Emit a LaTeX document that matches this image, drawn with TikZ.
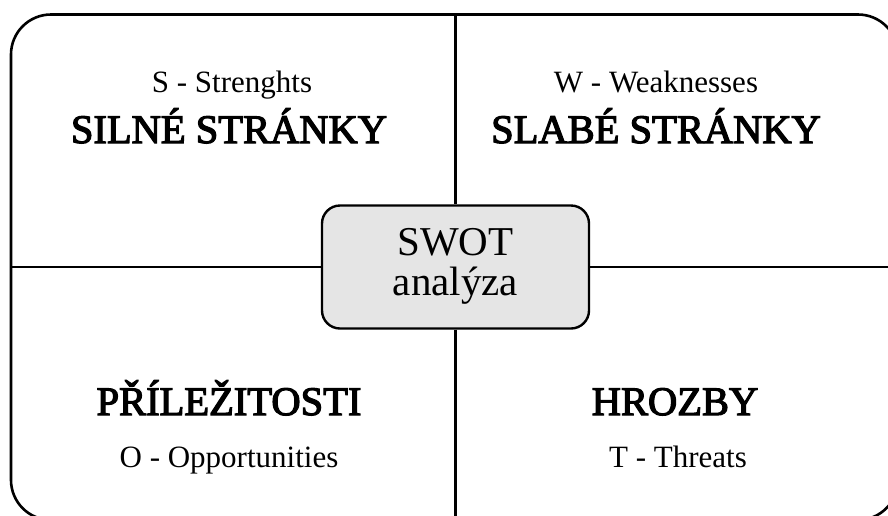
\documentclass[tikz,border=0pt]{standalone}
\usepackage{fontspec}
\setmainfont{Liberation Serif}
\newfontfamily\heavyserif{Liberation Serif}[FakeBold=3]
\begin{document}
\begin{tikzpicture}[x=1pt,y=-1pt,
  frame/.style={line width=2.6pt,rounded corners=40pt},
  divider/.style={line width=2.4pt},
  small/.style={font=\fontsize{31}{34}\selectfont,anchor=base,inner sep=0pt},
  big/.style={font=\heavyserif\fontsize{40.5}{44}\selectfont,anchor=base,inner sep=0pt},
  centerbox/.style={draw,line width=2.4pt,fill=black!10,rounded corners=18pt,
    minimum width=267pt,minimum height=123pt,align=center,
    font=\fontsize{41}{43}\selectfont,inner sep=0pt}]
\useasboundingbox (0,0) rectangle (888,515);
\begin{scope}
\clip (0,0) rectangle (888,515);
\draw[frame] (11,14.5) rectangle (898,520);
\coordinate (top) at (455.5,14.5);
\coordinate (bot) at (455.5,520);
\coordinate (lft) at (11,267);
\coordinate (rgt) at (898,267);
\node[centerbox] (c) at (455.5,267) {\raisebox{-5pt}{\begin{tabular}{@{}c@{}}SWOT\\[-3pt]analýza\end{tabular}}};
\draw[divider] (top) -- (c.north);
\draw[divider] (c.south) -- (bot);
\draw[divider] (lft) -- (c.west);
\draw[divider] (c.east) -- (rgt);
\end{scope}
\node[small] (s1) at (232,92) {S - Strenghts};
\node[big] (s2) at (229,143) {SILNÉ STRÁNKY};
\node[small] (w1) at (656,92) {W - Weaknesses};
\node[big] (w2) at (656,143) {SLABÉ STRÁNKY};
\node[big] (o2) at (229,415) {PŘÍLEŽITOSTI};
\node[small] (o1) at (229,467) {O - Opportunities};
\node[big] (t2) at (675,415) {HROZBY};
\node[small] (t1) at (678,467) {T - Threats};
\end{tikzpicture}
\end{document}
